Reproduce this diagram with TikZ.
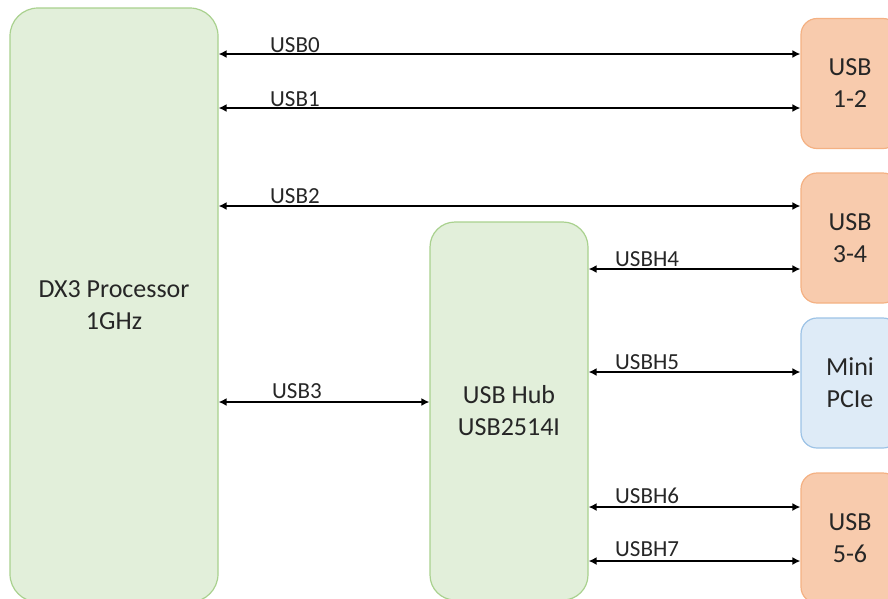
\documentclass[tikz,border=0pt]{standalone}
\usepackage{fontspec}
\setmainfont{Carlito}
\usepackage{tikz}
\usetikzlibrary{arrows.meta}
\usetikzlibrary{positioning}
\definecolor{chipfill}{HTML}{E2EFDA}
\definecolor{chipline}{HTML}{A9D18E}
\definecolor{portfill}{HTML}{F8CBAD}
\definecolor{portline}{HTML}{F4B183}
\definecolor{pciefill}{HTML}{DEEBF7}
\definecolor{pcieline}{HTML}{9DC3E6}

\begin{document}
\begin{tikzpicture}[x=1pt,y=-1pt,
	chip/.style={draw=chipline, fill=chipfill, line width=1.2pt, rounded corners=28pt, align=center, text=black!85, font=\fontsize{26}{32}\selectfont},
	port/.style={draw=portline, fill=portfill, line width=1.2pt, rounded corners=16pt, minimum width=98pt, minimum height=130pt, align=center, text=black!85, font=\fontsize{26}{32}\selectfont},
	bus/.style={<->, >={Latex[length=8pt,width=8pt]}, line width=2pt},
	lbl/.style={anchor=base west, inner sep=0pt, text=black!85, font=\fontsize{23}{27}\selectfont}]
					
					\useasboundingbox (0,0) rectangle (888,598);
					\clip (0,0) rectangle (888,598);
					
					\node[chip, minimum width=208pt, minimum height=594pt] (dx3) at (114,305) {DX3 Processor\\1GHz};
					\node[chip, minimum width=158pt, minimum height=378pt, rounded corners=25pt] (hub) at (509,411) {USB Hub\\USB2514I};
					
					\node[port] (usbA) at (850,83.5) {USB\\1-2};
					\node[port] (usbB) at (850,238) {USB\\3-4};
					\node[port, draw=pcieline, fill=pciefill] (pcie) at (850,383) {Mini\\PCIe};
					\node[port] (usbC) at (850,538) {USB\\5-6};
					
					\draw[bus] (dx3.east |- 0,54) -- (usbA.west |- 0,54);
					\draw[bus] (dx3.east |- 0,108) -- (usbA.west |- 0,108);
					\draw[bus] (dx3.east |- 0,206) -- (usbB.west |- 0,206);
					\draw[bus] (dx3.east |- 0,402) -- (hub.west |- 0,402);
					
					\draw[bus] (hub.east |- 0,269) -- (usbB.west |- 0,269);
					\draw[bus] (hub.east |- 0,372) -- (pcie.west |- 0,372);
					\draw[bus] (hub.east |- 0,507) -- (usbC.west |- 0,507);
					\draw[bus] (hub.east |- 0,561) -- (usbC.west |- 0,561);
					
					\node[lbl] (l0) at (270,52) {USB0};
					\node[lbl] (l1) at (270,106) {USB1};
					\node[lbl] (l2) at (270,203) {USB2};
					\node[lbl] (l3) at (272,398) {USB3};
					\node[lbl] (l4) at (615,266) {USBH4};
					\node[lbl] (l5) at (615,369) {USBH5};
					\node[lbl] (l6) at (615,503) {USBH6};
					\node[lbl] (l7) at (615,556) {USBH7};
					
			\end{tikzpicture}
\end{document}
